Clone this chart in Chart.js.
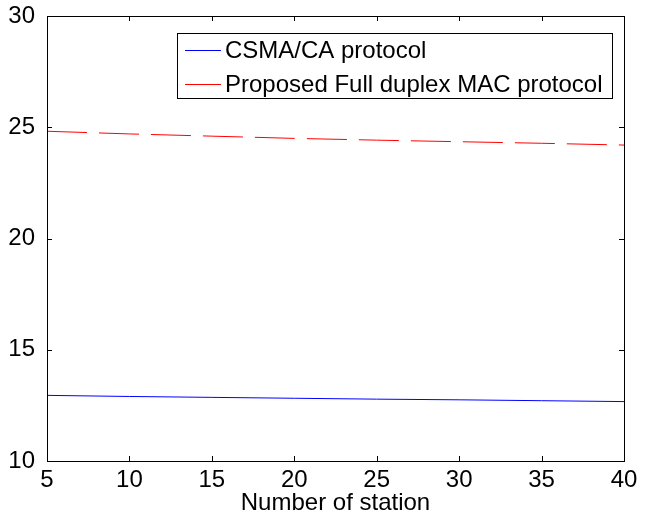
<!DOCTYPE html>
<html>
<head>
<meta charset="utf-8">
<script src="https://cdn.jsdelivr.net/npm/chart.js@4/dist/chart.umd.min.js"></script>
<style>
  html, body { margin: 0; padding: 0; background: #fff; }
  #wrap { width: 655px; height: 515px; }
</style>
</head>
<body>
<div id="wrap"><canvas id="chart" width="655" height="515"></canvas></div>
<script>
const stations = [5, 10, 15, 20, 25, 30, 35, 40];
const csmaValues = [12.95, 12.90, 12.86, 12.82, 12.78, 12.75, 12.71, 12.67];
const fullDuplexValues = [24.82, 24.70, 24.60, 24.50, 24.42, 24.35, 24.28, 24.20];
const seriesNames = ["CSMA/CA protocol", "Proposed Full duplex MAC protocol"];
const seriesColors = ["#0000ff", "#ff0000"];
const xTicks = [5, 10, 15, 20, 25, 30, 35, 40];
const yTicks = [10, 15, 20, 25, 30];

const FONT = "'Liberation Sans', Arial, sans-serif";

function toPoints(vals) {
    return stations.map((s, i) => ({ x: s, y: vals[i] }));
}

// box round the plot, with inward ticks on all four sides
const boxPlugin = {
    id: "box",
    afterDatasetsDraw(chart) {
        const { ctx, chartArea: a, scales } = chart;
        ctx.save();
        ctx.strokeStyle = "#000";
        ctx.lineWidth = 1;
        ctx.strokeRect(a.left + 0.5, a.top + 0.5, a.right - a.left, a.bottom - a.top);
        ctx.beginPath();
        xTicks.forEach(t => {
            const x = Math.round(scales.x.getPixelForValue(t)) + 0.5;
            ctx.moveTo(x, a.bottom); ctx.lineTo(x, a.bottom - 5);
            ctx.moveTo(x, a.top); ctx.lineTo(x, a.top + 5);
        });
        yTicks.forEach(t => {
            const y = Math.round(scales.y.getPixelForValue(t)) + 0.5;
            ctx.moveTo(a.left, y); ctx.lineTo(a.left + 5, y);
            ctx.moveTo(a.right, y); ctx.lineTo(a.right - 5, y);
        });
        ctx.stroke();

        // legend, inside the plot at top right
        const lx = 177, ly = 33, lw = 435, lh = 65;
        ctx.fillStyle = "#fff";
        ctx.fillRect(lx, ly, lw, lh);
        ctx.strokeStyle = "#000";
        ctx.strokeRect(lx + 0.5, ly + 0.5, lw, lh);
        ctx.font = "24px " + FONT;
        ctx.textBaseline = "middle";
        seriesNames.forEach((name, i) => {
            const y = ly + 17 + i * 34;
            ctx.strokeStyle = seriesColors[i];
            ctx.beginPath();
            ctx.moveTo(lx + 8, y + 0.5);
            ctx.lineTo(lx + 44, y + 0.5);
            ctx.stroke();
            ctx.fillStyle = "#000";
            ctx.fillText(name, lx + 48, y + 1);
        });
        ctx.restore();
    }
};

new Chart(document.getElementById("chart"), {
    type: "line",
    data: {
        datasets: [
            {
                label: seriesNames[0],
                data: toPoints(csmaValues),
                borderColor: seriesColors[0],
                borderWidth: 1,
                pointRadius: 0,
                tension: 0
            },
            {
                label: seriesNames[1],
                data: toPoints(fullDuplexValues),
                borderColor: seriesColors[1],
                borderWidth: 1,
                borderDash: [40, 12],
                pointRadius: 0,
                tension: 0
            }
        ]
    },
    options: {
        responsive: false,
        animation: false,
        layout: { padding: { left: 0, top: 14, right: 31, bottom: 0 } },
        plugins: {
            legend: { display: false },
            tooltip: { enabled: false }
        },
        scales: {
            x: {
                type: "linear",
                min: 5,
                max: 40,
                afterBuildTicks: s => { s.ticks = xTicks.map(v => ({ value: v })); },
                afterFit: s => { s.height = 54; },
                grid: { display: false },
                border: { display: false },
                ticks: { color: "#000", font: { family: FONT, size: 24 }, padding: -3, maxRotation: 0 },
                title: {
                    display: true,
                    text: "Number of station",
                    color: "#000",
                    font: { family: FONT, size: 24 },
                    padding: { top: -5, bottom: -3 }
                }
            },
            y: {
                min: 10,
                max: 30,
                afterBuildTicks: s => { s.ticks = yTicks.map(v => ({ value: v })); },
                afterFit: s => { s.width = 47; },
                grid: { display: false },
                border: { display: false },
                ticks: { color: "#000", font: { family: FONT, size: 24, lineHeight: 1 }, padding: 4 }
            }
        }
    },
    plugins: [boxPlugin]
});
</script>
</body>
</html>
